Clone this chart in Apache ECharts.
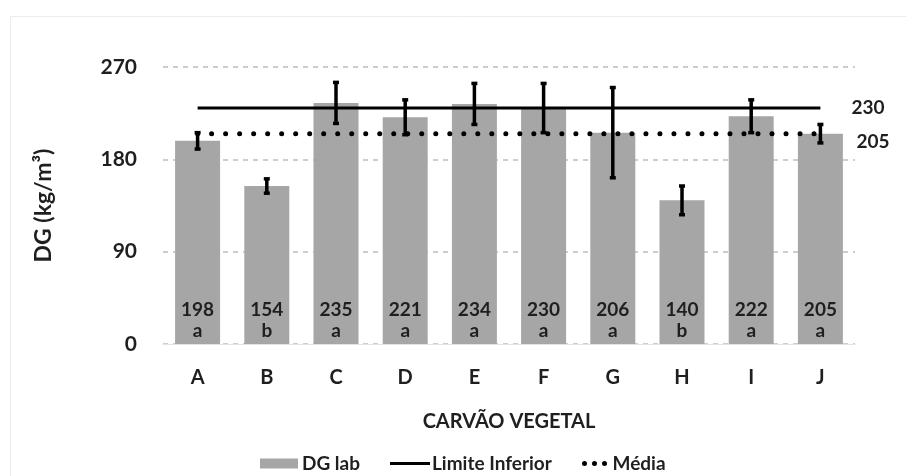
<!DOCTYPE html>
<html>
<head>
<meta charset="utf-8">
<script src="https://cdn.jsdelivr.net/npm/echarts@6/dist/echarts.min.js"></script>
<style>
  html, body { margin: 0; padding: 0; background: #fff; }
  #chart { width: 906px; height: 476px; }
</style>
</head>
<body>
<div id="chart"></div>
<script>
// Charcoal samples and their bulk density (DG lab, kg/m³)
const categories = ['A', 'B', 'C', 'D', 'E', 'F', 'G', 'H', 'I', 'J'];
const dgLab = [198, 154, 235, 221, 234, 230, 206, 140, 222, 205];
const dgError = [8, 7, 20, 17, 20, 24, 44, 14, 16, 9];
const groupLetters = ['a', 'b', 'a', 'a', 'a', 'a', 'a', 'b', 'a', 'a'];
const limiteInferior = 230;
const media = 205;
const yTicks = [0, 90, 180, 270];

const FONT = 'Lato';
const TEXT = '#1f1f1f';

const chart = echarts.init(document.getElementById('chart'), null, { renderer: 'canvas' });

const errorData = categories.map((c, i) => [i, dgLab[i], dgError[i]]);

const legendText = { fontFamily: FONT, fontWeight: 'bold', fontSize: 19, color: TEXT };

const option = {
  backgroundColor: '#ffffff',
  animation: false,
  textStyle: { fontFamily: FONT, color: TEXT },
  graphic: [{
    type: 'rect',
    shape: { x: 10.5, y: 16.5, width: 1000, height: 1000 },
    style: { fill: 'none', stroke: '#ececec', lineWidth: 1 },
    silent: true,
    z: -10
  }],
  grid: { left: 163, right: 51, top: 67, bottom: 132 },
  legend: [
    {
      data: [{ name: 'DG lab', icon: 'rect' }],
      left: 255, top: 449,
      itemWidth: 38, itemHeight: 10,
      textStyle: Object.assign({}, legendText, { padding: [0, 0, 0, -1] })
    },
    {
      data: [{ name: 'Limite Inferior', icon: 'rect', itemStyle: { color: '#000' } }],
      left: 385, top: 449,
      itemWidth: 40, itemHeight: 3,
      textStyle: Object.assign({}, legendText, { padding: [0, 0, 0, -3] })
    },
    {
      data: [{
        name: 'Média',
        icon: 'path://M0,2a2,2 0 1,0 4,0a2,2 0 1,0 -4,0z M8,2a2,2 0 1,0 4,0a2,2 0 1,0 -4,0z M16,2a2,2 0 1,0 4,0a2,2 0 1,0 -4,0z',
        itemStyle: { color: '#000' }
      }],
      left: 577, top: 449,
      itemWidth: 26, itemHeight: 5,
      textStyle: legendText
    }
  ],
  xAxis: {
    type: 'category',
    data: categories,
    boundaryGap: true,
    name: 'CARVÃO VEGETAL',
    nameLocation: 'middle',
    nameGap: 68,
    nameTextStyle: { fontFamily: FONT, fontWeight: 'bold', fontSize: 20, color: TEXT },
    axisLine: { show: true, lineStyle: { color: '#e3e3e3', width: 1 } },
    axisTick: { show: false },
    axisLabel: { fontFamily: FONT, fontWeight: 'bold', fontSize: 20, color: TEXT, margin: 24 }
  },
  yAxis: {
    type: 'value',
    min: yTicks[0],
    max: yTicks[yTicks.length - 1],
    interval: 90,
    name: 'DG (kg/m³)',
    nameLocation: 'middle',
    nameGap: 108,
    nameTextStyle: { fontFamily: FONT, fontWeight: 'bold', fontSize: 23, color: TEXT },
    axisLine: { show: false },
    axisTick: { show: false },
    axisLabel: { fontFamily: FONT, fontWeight: 'bold', fontSize: 21, color: TEXT, margin: 26 },
    splitLine: {
      show: true,
      lineStyle: { color: '#bdbdbd', type: [5, 5], width: 1.5 }
    }
  },
  series: [
    {
      name: 'DG lab',
      type: 'bar',
      data: dgLab,
      barCategoryGap: '35%',
      itemStyle: { color: '#a6a6a6' },
      label: {
        show: true,
        position: 'insideBottom',
        distance: 3,
        fontFamily: FONT,
        fontWeight: 'bold',
        fontSize: 19,
        lineHeight: 21,
        color: TEXT,
        formatter: p => p.value + '\n' + groupLetters[p.dataIndex]
      },
      z: 1
    },
    {
      name: 'Limite Inferior',
      type: 'line',
      data: categories.map(() => limiteInferior),
      symbol: 'none',
      lineStyle: { color: '#000', width: 3 },
      itemStyle: { color: '#000' },
      endLabel: {
        show: true,
        distance: 31,
        fontFamily: FONT,
        fontWeight: 'bold',
        fontSize: 19,
        color: TEXT,
        formatter: p => String(p.value)
      },
      z: 3
    },
    {
      name: 'Média',
      type: 'line',
      data: categories.map(() => media),
      symbol: 'none',
      lineStyle: { color: '#000', width: 5, type: [0.01, 14], cap: 'round' },
      itemStyle: { color: '#000' },
      endLabel: {
        show: true,
        distance: 36,
        offset: [0, 8],
        fontFamily: FONT,
        fontWeight: 'bold',
        fontSize: 19,
        color: TEXT,
        formatter: p => String(p.value)
      },
      z: 3
    },
    {
      name: 'erro',
      type: 'custom',
      data: errorData,
      renderItem: (params, api) => {
        const x = api.value(0);
        const v = api.value(1);
        const e = api.value(2);
        const top = api.coord([x, v + e]);
        const bot = api.coord([x, v - e]);
        const cap = 3;
        const style = { stroke: '#000', lineWidth: 3.5 };
        return {
          type: 'group',
          children: [
            { type: 'line', shape: { x1: top[0], y1: top[1], x2: bot[0], y2: bot[1] }, style },
            { type: 'line', shape: { x1: top[0] - cap, y1: top[1], x2: top[0] + cap, y2: top[1] }, style },
            { type: 'line', shape: { x1: bot[0] - cap, y1: bot[1], x2: bot[0] + cap, y2: bot[1] }, style }
          ]
        };
      },
      z: 5
    }
  ]
};

chart.setOption(option);
</script>
</body>
</html>
